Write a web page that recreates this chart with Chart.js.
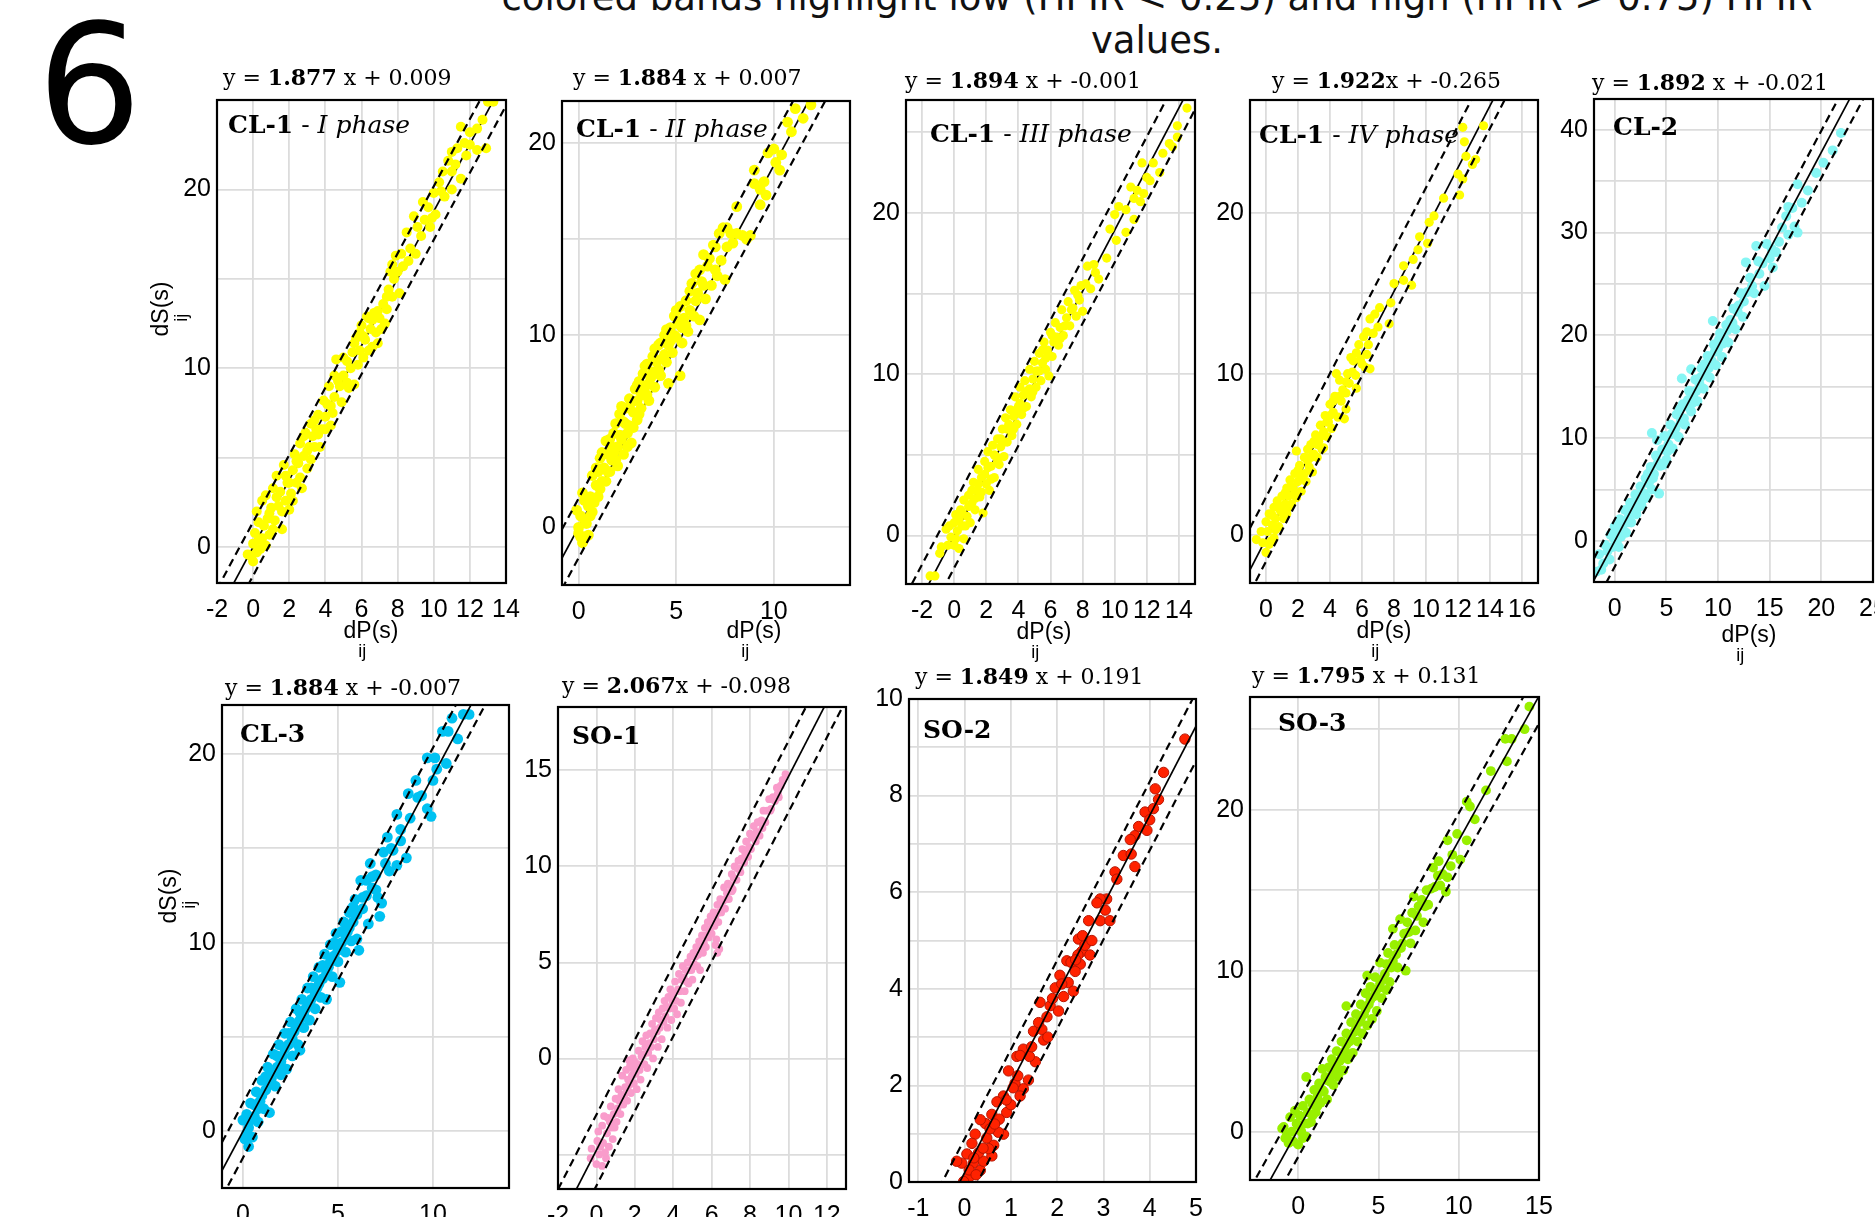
<!DOCTYPE html>
<html>
<head>
<meta charset="utf-8">
<script src="https://cdn.jsdelivr.net/npm/chart.js@4.4.1/dist/chart.umd.min.js"></script>
<style>
  body { margin: 0; width: 1875px; height: 1217px; overflow: hidden; background: #fff; position: relative; }
  .panel { position: absolute; }
  #fig { position: absolute; left: 37px; top: 4px; font: 165px/1 "DejaVu Sans"; color: #000; }
  #title { position: absolute; left: 457px; width: 1400px; top: -24px; text-align: center;
           font: 37px/43px "DejaVu Sans"; color: #111; white-space: nowrap; }
</style>
</head>
<body>
<div id="fig">6</div>
<div id="title">colored bands highlight low (HPIR &lt; 0.25) and high (HPIR &gt; 0.75) HPIR<br>values.</div>

<script>
// points, [dP_ij, dS_ij]
const cl1I = [[-0.3,-0.4],[-0.1,-0.5],[0.0,0.2],[0.2,-0.3],[0.1,0.8],[0.3,1.4],[0.5,0.5],[0.4,-0.1],[0.6,1.2],[0.2,2.0],
  [0.5,2.6],[0.8,1.6],[0.9,0.7],[1.0,2.2],[0.7,2.9],[1.2,1.5],[1.4,2.3],[1.1,3.3],[1.5,3.1],[1.3,4.0],[1.6,1.0],[1.8,2.6],
  [1.9,3.6],[1.7,4.6],[2.0,2.1],[2.1,3.0],[2.2,4.3],[2.4,3.6],[2.3,5.2],[2.5,4.7],[2.7,3.3],[2.6,5.8],[2.8,5.1],[3.0,4.4],
  [2.9,6.4],[3.1,5.6],[3.3,6.2],[3.2,4.9],[3.5,6.6],[3.4,7.1],[3.7,5.6],[3.8,6.6],[3.6,7.4],[4.0,7.3],[4.1,8.0],[4.3,6.8],
  [4.2,9.0],[4.5,8.4],[4.4,7.5],[4.7,9.3],[4.6,10.5],[4.9,8.1],[5.0,9.6],[5.2,10.4],[5.3,8.9],[5.5,10.9],[5.6,9.1],[5.8,10.2],
  [5.7,11.7],[6.0,12.4],[5.9,11.0],[6.2,11.6],[6.3,12.9],[6.1,10.6],[6.5,12.2],[6.6,11.2],[6.7,13.1],[6.8,12.0],[7.0,12.8],
  [6.9,11.4],[7.2,13.6],[7.3,12.5],[7.5,14.4],[7.4,13.3],[7.7,14.0],[7.8,15.0],[7.6,15.4],[8.0,15.4],[8.1,14.2],[7.9,16.3],
  [8.3,15.7],[8.5,17.6],[8.7,16.7],[9.0,16.4],[8.9,18.5],[9.3,17.4],[9.5,18.3],[9.4,19.3],[9.8,17.9],[9.7,19.0],[10.1,18.6],
  [10.0,19.8],[10.3,20.4],[10.6,19.6],[10.5,21.0],[11.0,20.0],[11.2,21.4],[11.0,22.1],[10.8,21.6],[11.5,20.6],[11.3,22.3],
  [11.7,22.6],[12.0,22.5],[12.4,22.2],[12.0,23.2],[11.5,23.5],[12.4,23.4],[12.7,23.9],[13.0,24.9],[13.3,24.9],[12.9,22.3],
  [0.0,-0.8],[0.3,0.4],[0.7,0.1],[0.9,1.9],[1.1,1.0],[1.3,2.8],[1.6,2.0],[1.8,4.0],[2.0,3.6],[2.2,2.6],[2.4,4.8],[2.6,3.9],
  [2.8,6.2],[3.0,5.4],[3.2,6.9],[3.4,5.6],[3.6,6.3],[3.9,8.2],[4.0,6.6],[4.3,7.9],[4.5,9.6],[4.8,9.0],[5.0,10.6],[5.2,9.2],
  [5.4,10.0],[5.6,11.4],[5.9,12.0],[6.1,11.8],[6.4,12.8],[6.4,11.0],[6.6,12.7],[6.9,13.2],[7.1,12.2],[7.4,14.0],[7.7,15.8],
  [8.2,16.4],[8.6,16.0],[9.1,17.9],[9.9,18.4],[10.4,19.9],[11.0,21.0],[11.8,21.9]];

const cl1II = [[-0.1,0.9],[0.0,0.0],[0.1,-0.5],[0.2,-0.8],[0.3,0.4],[0.0,-0.3],[0.2,1.8],[0.4,0.2],[0.5,1.1],[0.3,-0.5],
  [0.6,0.6],[0.7,2.7],[0.6,1.6],[0.8,1.3],[0.9,2.2],[1.0,2.9],[1.0,1.6],[1.1,3.6],[1.2,2.4],[1.3,3.1],[1.4,4.5],[1.4,2.4],
  [1.5,3.8],[1.6,4.6],[1.6,2.9],[1.7,3.5],[1.8,4.9],[1.8,3.9],[1.9,5.4],[2.0,4.2],[2.0,3.2],[2.1,5.9],[2.2,4.6],[2.3,5.5],
  [2.3,3.8],[2.4,6.2],[2.5,4.9],[2.6,6.7],[2.6,5.3],[2.7,4.4],[2.8,6.0],[2.9,7.2],[3.0,5.6],[3.0,6.6],[3.1,7.6],[3.2,6.2],
  [3.3,8.0],[3.3,6.9],[3.4,7.3],[3.5,8.5],[3.6,6.6],[3.7,7.8],[3.8,8.9],[3.9,7.3],[4.0,8.6],[4.1,9.5],[4.2,7.9],[4.3,8.8],
  [4.4,10.0],[4.5,8.6],[4.6,9.5],[4.6,7.5],[4.7,10.4],[4.8,9.1],[4.9,11.0],[5.0,9.9],[5.1,10.6],[5.2,7.9],[5.2,11.5],
  [5.3,9.6],[5.4,10.9],[5.5,11.8],[5.6,10.2],[5.7,11.3],[5.8,12.7],[5.9,11.0],[6.0,13.2],[6.1,12.2],[6.2,10.8],[6.3,12.8],
  [6.4,14.2],[6.5,11.9],[6.6,13.6],[6.8,12.6],[6.9,14.7],[7.0,13.4],[7.2,15.3],[7.3,13.9],[7.4,15.6],[7.6,14.6],[7.8,15.3],
  [7.5,12.9],[8.1,16.7],[8.1,15.3],[8.4,15.2],[8.8,15.2],[8.6,15.0],[9.0,18.6],[9.3,17.6],[9.6,17.3],[9.3,16.8],[9.0,17.9],
  [9.5,18.0],[9.7,19.5],[10.0,19.7],[10.1,19.0],[10.4,19.4],[10.3,18.6],[10.7,21.1],[10.9,20.6],[11.1,21.8],[11.5,21.3],
  [11.9,22.0],
  [0.1,0.6],[0.3,1.4],[0.5,-0.4],[0.7,0.8],[0.9,3.1],[1.1,2.0],[1.2,3.9],[1.5,2.9],[1.7,4.2],[1.9,3.5],[2.1,4.8],[2.2,6.3],
  [2.4,5.4],[2.5,4.2],[2.7,6.5],[2.8,5.2],[3.0,7.4],[3.1,5.9],[3.2,7.0],[3.4,8.4],[3.5,6.9],[3.6,7.5],[3.8,8.1],[3.9,9.3],
  [4.1,8.2],[4.2,9.6],[4.4,9.0],[4.5,10.3],[4.7,9.7],[4.9,10.0],[5.0,11.3],[5.3,10.4],[5.5,10.5],[5.7,12.3],[6.0,11.8],
  [6.2,13.4],[6.4,12.6],[6.7,14.0],[7.0,14.6],[7.1,13.1],[7.6,15.6],[7.9,14.8]];

const cl1III = [[-1.5,-2.5],[-1.2,-2.5],[-0.9,-1.1],[-0.8,-0.7],[-0.5,0.4],[-0.4,-0.6],[-0.2,-0.1],[0.0,0.8],[0.0,-0.6],
  [0.2,0.3],[0.1,1.3],[0.3,-0.8],[0.4,1.6],[0.5,0.6],[0.6,2.2],[0.6,-0.2],[0.8,1.2],[0.9,2.5],[1.0,0.8],[1.1,2.0],[1.2,3.3],
  [1.3,1.6],[1.4,2.8],[1.5,4.1],[1.6,2.4],[1.7,3.6],[1.8,1.4],[1.9,4.6],[2.0,3.2],[2.1,5.2],[2.2,2.8],[2.3,4.3],[2.4,5.6],
  [2.5,3.6],[2.6,4.9],[2.7,6.0],[2.8,4.4],[2.9,5.5],[3.0,6.6],[3.1,4.9],[3.2,7.3],[3.3,5.8],[3.4,6.9],[3.5,7.8],[3.6,6.2],
  [3.7,7.4],[3.8,8.6],[3.9,6.9],[4.0,8.0],[4.1,9.2],[4.2,7.5],[4.3,8.7],[4.4,9.6],[4.5,8.0],[4.6,9.0],[4.7,10.3],[4.8,8.6],
  [4.9,9.7],[5.0,10.8],[5.1,9.2],[5.2,10.2],[5.3,11.3],[5.4,9.6],[5.5,10.7],[5.6,12.0],[5.7,10.3],[5.8,11.5],[5.9,9.9],
  [6.0,12.6],[6.1,11.1],[6.2,12.0],[6.3,13.2],[6.5,11.8],[6.6,12.9],[6.7,14.0],[6.8,12.4],[7.0,13.5],[7.1,14.5],[7.2,13.0],
  [7.4,14.1],[7.5,15.2],[7.6,13.6],[7.8,14.6],[7.9,15.5],[8.0,13.9],[8.3,16.7],[8.5,15.3],[8.7,16.8],[9.0,15.9],[9.5,17.2],
  [9.7,19.0],[10.0,19.9],[10.1,18.3],[10.25,20.4],[10.7,18.8],[10.7,20.2],[11.0,21.6],[11.2,20.9],[11.2,19.6],[11.4,21.4],
  [11.6,20.7],[11.7,23.1],[11.8,21.2],[12.0,22.2],[12.2,22.0],[12.4,23.1],[12.8,22.5],[13.0,23.7],[13.4,24.3],[13.6,24.1],
  [13.9,25.4],[13.9,24.7],[14.5,26.5],
  [-0.3,0.6],[0.1,-0.2],[0.3,1.0],[0.5,1.4],[0.7,0.6],[0.9,1.8],[1.1,2.8],[1.3,2.3],[1.5,3.2],[1.7,2.7],[1.9,3.8],[2.1,4.2],
  [2.3,3.5],[2.5,5.0],[2.7,4.6],[2.9,6.0],[3.1,5.8],[3.3,6.6],[3.5,6.7],[3.7,6.6],[3.9,7.8],[4.1,8.2],[4.3,7.9],[4.5,8.9],
  [4.7,9.1],[4.9,8.9],[5.1,10.2],[5.3,10.2],[5.5,11.5],[5.7,11.0],[5.9,11.2],[6.1,12.4],[6.4,12.3],[6.6,12.2],[6.9,13.0],
  [7.3,14.0],[7.7,14.9],[8.2,15.6],[8.8,16.3]];

const cl1IV = [[-0.6,-0.3],[-0.3,0.2],[-0.2,-0.5],[0.0,0.8],[0.0,-1.1],[0.1,0.2],[0.2,1.3],[0.3,-0.4],[0.4,0.6],[0.5,1.7],
  [0.5,-0.2],[0.6,1.0],[0.7,2.1],[0.8,0.5],[0.9,1.5],[1.0,2.4],[1.1,1.0],[1.2,1.9],[1.3,2.9],[1.3,1.3],[1.4,2.4],[1.5,3.4],
  [1.6,1.9],[1.7,2.9],[1.8,3.8],[1.9,2.3],[1.9,5.2],[2.0,3.3],[2.1,4.3],[2.2,2.7],[2.3,3.7],[2.4,4.8],[2.5,3.3],[2.6,5.3],
  [2.7,4.2],[2.8,5.6],[2.9,3.9],[3.0,5.0],[3.1,6.2],[3.2,4.8],[3.3,5.8],[3.4,6.8],[3.5,5.3],[3.6,5.4],[3.6,6.4],[3.7,7.4],
  [3.8,6.1],[3.9,7.0],[4.0,8.1],[4.1,6.6],[4.2,7.6],[4.3,8.6],[4.4,10.0],[4.5,7.3],[4.6,9.6],[4.7,8.3],[4.8,9.0],[4.9,7.2],
  [5.0,8.8],[5.0,7.8],[5.1,10.0],[5.2,9.4],[5.3,11.0],[5.45,10.8],[5.6,9.9],[5.65,11.3],[5.65,9.1],[5.8,11.8],[6.0,10.6],
  [6.1,12.3],[6.2,10.4],[6.3,11.2],[6.4,11.8],[6.5,13.4],[6.5,10.3],[6.7,12.5],[6.8,13.7],[7.0,12.9],[7.1,14.1],[7.7,13.1],
  [7.8,14.4],[8.0,15.6],[8.6,16.7],[8.6,15.8],[9.1,15.5],[9.2,17.1],[9.5,17.7],[9.6,18.5],[10.1,18.1],[10.2,19.4],[10.5,19.8],
  [11.1,20.9],[12.1,21.1],[12.0,22.4],[12.3,22.1],[12.5,23.5],[12.9,23.0],[13.1,23.3],[12.4,24.4],[12.3,25.3],[13.6,25.4],
  [0.2,-0.6],[0.4,1.2],[0.6,0.3],[0.8,1.8],[1.0,1.4],[1.2,2.6],[1.4,1.7],[1.6,3.0],[1.8,2.6],[2.0,4.0],[2.2,3.6],[2.4,3.8],
  [2.6,4.6],[2.8,4.8],[3.0,5.8],[3.2,5.6],[3.4,6.1],[3.8,7.0],[4.0,7.4],[4.2,8.3],[4.6,8.6],[5.0,9.5],[5.4,10.1],[5.9,10.9],
  [6.3,12.6]];

const cl2 = [[-1.8,-3.0],[-1.5,-1.3],[-1.1,-2.2],[-0.9,-0.4],[-0.5,-1.8],[-0.4,0.6],[-0.2,-0.6],[0.0,1.4],[0.2,-0.2],
  [0.3,0.9],[0.5,2.1],[0.6,0.4],[0.8,1.6],[1.0,3.0],[1.1,0.8],[1.3,2.2],[1.5,3.7],[1.6,1.8],[1.8,3.0],[2.0,4.5],[2.1,2.6],
  [2.3,3.9],[2.5,5.3],[2.6,3.4],[2.8,4.6],[3.0,6.1],[3.1,4.2],[3.3,5.6],[3.5,7.2],[3.6,10.5],[3.6,5.0],[3.8,6.5],[4.0,8.3],
  [4.1,9.8],[4.3,4.6],[4.4,7.3],[4.6,8.9],[4.8,10.2],[5.0,7.9],[5.2,9.4],[5.4,11.3],[5.6,9.0],[5.8,10.5],[6.0,12.3],[6.2,10.1],
  [6.4,11.6],[6.5,15.8],[6.6,13.3],[6.8,11.3],[7.0,13.1],[7.2,14.6],[7.4,16.7],[7.4,12.6],[7.6,14.1],[7.8,15.7],[8.0,13.6],
  [8.2,15.3],[8.4,16.8],[8.6,14.8],[8.8,16.4],[9.0,18.0],[9.2,15.9],[9.4,17.5],[9.5,21.4],[9.6,19.1],[9.8,17.1],[10.0,18.7],
  [10.2,20.2],[10.4,17.9],[10.6,19.7],[10.8,21.0],[11.0,19.3],[11.2,21.5],[11.5,22.6],[11.7,20.6],[12.0,22.9],[12.2,24.1],
  [12.4,21.8],[12.7,27.1],[12.8,24.2],[13.1,25.6],[13.5,24.1],[13.7,28.7],[14.0,26.0],[14.5,24.8],[14.7,28.9],[15.0,27.5],
  [15.3,26.6],[15.6,28.1],[15.9,29.1],[16.6,31.6],[16.8,32.5],[16.8,29.8],[17.4,30.6],[17.7,34.7],[17.7,30.0],[18.1,32.9],
  [18.7,34.1],[19.5,35.8],[20.2,36.8],[21.1,38.0],[21.9,39.7],
  [-1.3,-2.8],[-0.7,-1.0],[-0.1,0.3],[0.4,-0.6],[0.7,1.2],[1.2,1.8],[1.7,2.8],[2.2,3.2],[2.7,4.0],[3.2,6.5],[3.7,6.1],
  [4.2,7.6],[4.7,7.4],[5.1,8.7],[5.5,10.4],[5.9,11.0],[6.3,12.8],[6.7,11.9],[7.1,13.7],[7.5,13.4],[7.9,14.6],[8.3,15.9],
  [8.7,17.2],[9.1,16.8],[9.7,18.4],[10.1,19.6],[10.5,19.2],[10.9,20.5],[11.4,21.2],[11.9,22.3],[12.5,23.3],[13.3,24.8],
  [13.9,27.2],[14.3,27.0],[15.2,28.4],[16.2,30.5],[17.2,32.4]];

const cl3 = [[0.0,0.6],[0.1,-0.4],[0.2,0.9],[0.3,-0.8],[0.3,0.2],[0.4,1.5],[0.5,-0.3],[0.6,0.8],[0.7,2.1],[0.8,0.5],[0.9,1.6],
  [1.0,2.7],[1.1,1.2],[1.2,2.2],[1.3,3.4],[1.4,1.0],[1.5,2.8],[1.6,4.1],[1.7,2.4],[1.8,3.4],[1.9,4.6],[2.0,3.0],[2.1,4.0],
  [2.2,5.2],[2.3,3.3],[2.4,4.6],[2.5,5.8],[2.6,4.0],[2.7,5.3],[2.8,6.5],[2.9,4.6],[3.0,5.9],[3.0,4.3],[3.1,7.0],[3.2,5.5],
  [3.3,6.5],[3.4,7.6],[3.5,5.9],[3.6,7.0],[3.7,8.2],[3.8,6.5],[3.9,7.6],[4.0,8.7],[4.1,7.1],[4.2,8.1],[4.3,9.4],[4.4,7.0],
  [4.5,8.7],[4.6,9.9],[4.7,8.2],[4.8,9.3],[4.9,10.5],[5.0,9.0],[5.1,7.9],[5.2,10.0],[5.3,11.1],[5.4,9.5],[5.5,10.6],[5.6,11.6],
  [5.7,10.1],[5.8,11.1],[5.9,12.3],[6.0,10.2],[6.1,9.6],[6.2,13.3],[6.3,11.8],[6.5,12.5],[6.6,11.0],[6.7,14.2],[6.8,12.9],
  [7.0,13.6],[7.1,12.4],[7.2,11.4],[7.3,12.1],[7.4,14.8],[7.6,15.6],[7.7,13.8],[7.9,14.9],[8.1,16.8],[8.1,14.1],[8.3,15.4],
  [8.6,14.5],[8.7,17.9],[9.1,18.6],[9.2,17.7],[9.7,17.1],[9.9,16.7],[9.7,19.8],[10.1,19.8],[10.2,19.2],[10.5,21.2],[10.7,19.5],
  [10.8,21.2],[11.0,21.9],[11.3,20.8],[11.6,22.1],[11.9,22.1],
  [0.2,-0.1],[0.4,0.6],[0.6,1.4],[0.8,1.2],[1.0,1.9],[1.2,2.9],[1.4,2.5],[1.6,3.1],[1.8,4.0],[2.0,3.7],[2.2,4.4],[2.4,5.2],
  [2.6,4.9],[2.8,5.6],[3.0,6.3],[3.2,6.2],[3.4,6.8],[3.6,7.6],[3.8,7.3],[4.0,7.8],[4.2,8.8],[4.4,8.4],[4.6,9.0],[4.8,10.0],
  [5.0,9.6],[5.2,10.6],[5.4,10.4],[5.6,10.8],[5.8,11.9],[6.0,11.5],[6.3,12.4],[6.5,13.3],[6.8,13.5],[7.0,12.8],[7.5,14.2],
  [7.8,15.0],[8.3,16.0],[8.8,16.6],[9.4,17.8],[10.0,18.6]];

const so1 = [[-0.3,-5.2],[-0.25,-4.7],[0.0,-5.5],[0.05,-4.3],[0.1,-3.8],[0.15,-5.0],[0.3,-5.6],[0.3,-3.5],[0.35,-4.4],
  [0.4,-3.0],[0.5,-5.2],[0.55,-3.9],[0.6,-3.1],[0.65,-4.6],[0.75,-2.5],[0.8,-3.6],[0.85,-4.2],[0.9,-2.9],[1.0,-2.1],
  [1.05,-3.3],[1.1,-2.6],[1.15,-1.6],[1.25,-2.9],[1.3,-1.9],[1.35,-0.9],[1.4,-2.4],[1.5,-1.5],[1.55,-0.6],[1.6,-2.2],
  [1.65,-1.1],[1.75,-0.4],[1.8,-1.8],[1.85,-0.9],[1.9,0.0],[1.95,-1.3],[2.0,-0.2],[2.05,-0.8],[2.1,-1.6],[1.7,-0.1],
  [2.2,0.4],[2.25,-0.6],[2.3,-1.1],[2.35,0.1],[2.4,0.9],[2.5,-0.3],[2.55,0.6],[2.6,1.2],[2.65,-0.5],[2.7,0.3],[2.8,1.3],
  [2.85,0.6],[2.9,1.8],[2.95,0.0],[3.0,1.0],[3.1,2.1],[3.15,1.4],[3.2,0.6],[3.25,2.4],[3.3,1.6],[3.4,1.0],[3.45,2.6],
  [3.5,1.9],[3.55,3.0],[3.6,2.2],[3.7,1.6],[3.75,3.2],[3.8,2.6],[3.85,3.6],[3.9,2.0],[4.0,3.4],[4.05,2.6],[4.1,4.0],
  [4.15,3.0],[4.2,2.3],[4.3,4.4],[4.35,3.5],[4.4,2.9],[4.45,4.1],[4.5,4.8],[4.6,3.5],[4.65,4.6],[4.7,4.0],[4.75,5.0],
  [4.8,3.9],[4.9,5.3],[4.95,4.6],[5.0,4.1],[5.05,5.5],[5.1,4.9],[5.2,5.8],[5.25,4.8],[5.3,5.4],[5.35,6.1],[5.4,4.6],
  [5.5,6.4],[5.55,5.5],[5.6,6.0],[5.65,6.8],[5.7,5.8],[5.8,7.1],[5.85,6.3],[5.9,6.7],[5.95,7.4],[6.0,6.5],[6.2,5.9],
  [6.3,5.5],[6.4,5.7],[6.25,6.2],[6.1,7.6],[6.15,6.9],[6.2,7.4],[6.3,8.0],[6.35,7.1],[6.45,8.3],[6.5,7.6],[6.6,8.2],
  [6.65,8.9],[6.7,7.8],[6.8,8.6],[6.85,9.1],[6.9,8.3],[7.0,9.0],[7.05,9.6],[7.1,8.8],[7.15,9.4],[7.2,10.0],[7.3,9.3],
  [7.35,9.9],[7.4,10.3],[7.5,9.7],[7.55,10.4],[7.6,10.9],[7.7,10.2],[7.75,10.7],[7.8,11.3],[7.9,10.5],[7.95,11.0],
  [8.0,11.7],[8.05,10.9],[8.1,11.5],[8.2,12.1],[8.3,11.3],[8.35,11.8],[8.4,12.3],[8.5,11.6],[8.6,12.4],[8.7,12.9],
  [8.8,12.3],[8.9,12.9],[9.0,13.5],[9.1,13.0],[9.2,13.6],[9.3,13.4],[9.4,14.1],[9.5,13.6],[9.6,14.2],[9.7,14.5],[9.85,14.8],
  [0.2,-4.6],[0.45,-4.9],[0.7,-3.3],[0.95,-3.6],[1.2,-2.2],[1.45,-1.9],[1.7,-1.4],[1.95,-0.6],[2.15,-0.3],[2.45,0.2],
  [2.75,0.8],[3.05,1.5],[3.35,2.0],[3.65,2.7],[3.95,3.0],[4.25,3.6],[4.55,4.2],[4.85,4.6],[5.15,5.3],[5.45,5.7],[5.75,6.4],
  [6.05,7.0],[6.4,7.6],[6.75,8.3],[7.05,8.7],[7.45,9.9],[7.85,10.6],[8.25,11.5],[8.65,12.0],[9.05,12.9],[9.45,13.8]];

const so2 = [[4.76,9.17],[4.3,8.48],[4.12,8.14],[4.19,7.92],[3.9,7.66],[4.08,7.73],[4.0,7.5],[3.94,7.28],[3.76,7.36],
  [3.68,7.17],[3.58,7.09],[3.43,6.76],[3.6,6.79],[3.68,6.53],[3.25,6.42],[3.29,6.27],[3.07,5.86],[3.04,5.63],[2.93,5.86],
  [2.86,5.78],[2.68,5.41],[2.93,5.41],[3.14,5.41],[2.46,5.03],[2.64,4.96],[2.53,4.77],[2.71,4.70],[2.6,4.9],[2.5,4.51],
  [2.39,4.36],[2.21,4.58],[2.06,4.28],[2.24,4.13],[2.35,3.95],[1.96,4.02],[2.14,3.84],[1.85,3.65],[2.03,3.54],[1.63,3.72],
  [1.78,3.42],[1.49,3.12],[1.67,3.16],[1.71,2.94],[1.27,2.75],[1.13,2.6],[1.2,2.62],[0.95,2.30],[1.53,2.49],[1.38,2.11],
  [1.27,1.93],[1.09,2.04],[1.2,1.78],[0.84,1.78],[0.7,1.66],[0.91,1.44],[0.59,1.4],[0.45,1.21],[0.34,1.29],[0.23,0.99],
  [0.84,0.99],[0.48,0.91],[0.63,0.76],[0.59,0.54],[0.16,0.8],[0.05,0.58],[0.19,0.39],[-0.06,0.39],[0.34,0.24],[0.09,0.09],
  [-0.02,0.01],[-0.17,0.43],[0.41,0.43],[0.73,1.03],[0.52,0.69],[0.3,0.6],[0.1,0.25],[0.25,0.15],[0.55,1.1],[0.75,1.3],
  [1.0,1.6],[1.05,1.95],[1.4,2.6],[1.8,3.0],[2.3,4.55],[2.55,5.1],[2.45,4.7],
  [0.2,0.5],[0.4,0.7],[0.65,1.2],[0.9,1.7],[1.15,2.2],[1.45,2.8],[1.6,3.3],[1.9,3.8],[2.1,4.1],[2.4,4.6],[2.75,5.0]];

const so3 = [[-0.9,0.3],[-1.0,0.2],[-0.7,-0.2],[-0.6,-0.7],[-0.5,0.9],[-0.4,0.0],[-0.3,-0.6],[-0.2,1.3],[0.0,0.4],[0.0,-0.8],
  [0.1,1.0],[0.2,0.0],[0.3,1.6],[0.4,0.5],[0.5,-0.3],[0.5,3.4],[0.6,1.2],[0.7,2.0],[0.8,0.6],[0.9,1.7],[1.0,2.6],[1.1,1.2],
  [1.2,2.2],[1.3,3.0],[1.4,1.8],[1.5,3.9],[1.6,2.5],[1.7,3.4],[1.8,2.0],[1.9,4.0],[2.0,3.1],[2.1,4.5],[2.2,2.9],[2.3,3.8],
  [2.4,5.0],[2.5,3.4],[2.6,4.4],[2.7,5.6],[2.8,3.8],[2.9,5.0],[3.0,7.8],[3.0,6.1],[3.1,4.5],[3.2,5.6],[3.3,6.8],[3.4,4.9],
  [3.5,6.2],[3.6,7.3],[3.7,5.6],[3.8,6.8],[3.9,7.9],[4.0,6.1],[4.1,7.3],[4.2,8.6],[4.3,9.7],[4.3,6.6],[4.4,7.9],[4.5,9.0],
  [4.6,7.0],[4.7,8.4],[4.8,9.6],[4.9,7.5],[5.0,8.9],[5.1,10.5],[5.2,8.3],[5.3,9.5],[5.5,8.8],[5.5,10.4],[5.6,11.1],[5.7,9.3],
  [5.9,12.6],[5.9,10.6],[6.0,11.6],[6.2,10.2],[6.35,13.2],[6.4,11.4],[6.6,12.3],[6.7,10.0],[6.8,13.0],[7.0,11.7],[7.1,13.6],
  [7.2,14.6],[7.3,12.5],[7.5,14.0],[7.7,14.4],[7.8,13.0],[8.0,15.0],[8.1,14.1],[8.4,16.4],[8.5,15.2],[8.75,16.8],[8.85,15.3],
  [9.0,16.0],[9.2,14.9],[9.3,18.1],[9.3,15.8],[9.6,17.2],[9.9,18.5],[10.1,16.9],[10.5,18.1],[10.5,20.5],[10.7,20.2],
  [11.0,19.4],[11.7,21.2],[12.0,22.4],[12.9,24.4],[13.0,23.0],[13.3,24.4],[14.1,25.0],[14.4,26.4],
  [-0.8,-0.4],[-0.1,0.5],[0.3,-0.4],[0.6,0.5],[0.9,1.0],[1.2,1.6],[1.5,2.6],[1.8,3.2],[2.1,3.5],[2.4,4.2],[2.7,4.6],
  [3.0,5.4],[3.3,6.0],[3.6,6.4],[3.9,7.0],[4.2,7.6],[4.5,8.2],[4.8,8.6],[5.1,9.2],[5.4,9.8],[5.8,10.2],[6.1,11.0],
  [6.5,11.7],[6.9,12.4],[7.4,13.4],[7.9,14.0],[8.3,15.1],[8.7,15.9],[9.5,16.5]];

const panelData = [cl1I, cl1II, cl1III, cl1IV, cl2, cl3, so1, so2, so3];
const panelName = [['CL-1', ' - ', 'I phase'], ['CL-1', ' - ', 'II phase'], ['CL-1', ' - ', 'III phase'],
  ['CL-1', ' - ', 'IV phase'], ['CL-2'], ['CL-3'], ['SO-1'], ['SO-2'], ['SO-3']];

// equation text above each panel
const eqSlope = ['1.877', '1.884', '1.894', '1.922', '1.892', '1.884', '2.067', '1.849', '1.795'];
const eqX = [' x', ' x', ' x', 'x', ' x', ' x', 'x', ' x', ' x'];
const eqIcpt = ['0.009', '0.007', '-0.001', '-0.265', '-0.021', '-0.007', '-0.098', '0.191', '0.131'];

// fitted line as drawn, and the dashed band offsets
const fitSlope = [1.877, 1.884, 1.894, 1.922, 1.892, 1.884, 1.945, 1.849, 1.795];
const fitIcpt = [0.009, 0.007, -0.001, -0.265, -0.021, -0.007, -4.78, 0.191, 0.131];
const bandUp = [1.4, 1.5, 2.0, 2.6, 2.1, 1.5, 1.85, 0.7, 1.7];
const bandDn = [1.6, 1.6, 2.0, 1.4, 2.5, 1.4, 1.85, 0.72, 1.7];

// axes
const xRange = [[-2, 14], [-0.85, 13.9], [-3, 15], [-1, 17], [-2, 25], [-1.1, 14], [-2, 13], [-1.2, 5], [-3, 15]];
const yRange = [[-2, 25], [-3, 22.2], [-3, 27], [-3, 27], [-4, 43], [-3, 22.6], [-6.8, 18.3], [0, 10], [-3, 27]];
const xStep = [2, 5, 2, 2, 5, 5, 2, 1, 5];
const yStep = [5, 5, 5, 5, 5, 5, 5, 1, 5];
const yLabStep = [10, 10, 10, 10, 10, 10, 5, 2, 10];
const yLabMin = [-99, -99, -99, -99, -99, -99, 0, -99, -99];

// layout (page px): plot boxes and text anchors
const PAD = {l: 75, t: 50, r: 26, b: 95};
const boxes = [[217, 100, 506, 583], [562, 101, 850, 585], [906, 100, 1195, 584], [1250, 100, 1538, 583],
  [1594, 99, 1873, 582], [222, 705, 509, 1188], [558, 707, 846, 1189], [909, 699, 1196, 1182], [1250, 697, 1539, 1180]];
const eqPos = [[223, 85], [573, 85], [905, 88], [1272, 88], [1592, 90], [225, 695], [562, 693], [915, 684], [1252, 683]];
const lblPos = [[228, 133], [576, 137], [930, 142], [1259, 143], [1613, 135], [240, 742], [572, 744], [923, 738], [1278, 731]];
const xLab = [[371, 638], [754, 638], [1044, 639], [1384, 638], [1749, 642], null, null, null, null];
const yLab = [[168, 309], null, null, null, null, [176, 896], null, null, null];

const colors = ['#ffff00', '#ffff00', '#ffff00', '#ffff00', '#86f6f4', '#00c2f2', '#f99ccb', '#ff2200', '#98f000'];
const edges = [null, null, null, null, null, null, null, '#b81500', null];
const radii = [5, 5.4, 4.6, 4.6, 5, 5.4, 3.9, 5.2, 4.9];
const lineOnTop = [false, false, false, false, true, true, true, true, true];

function runs(ctx, parts, x, y) {
  parts.forEach(([txt, f]) => {
    ctx.font = f + ' "DejaVu Serif"';
    ctx.fillText(txt, x, y);
    x += ctx.measureText(txt).width;
  });
}

// "dP" + "(s)" with "ij" set below, like the MATLAB labels
function subLabel(ctx, head, cx, base) {
  ctx.font = '23px "Liberation Sans"';
  const w1 = ctx.measureText(head).width, w2 = ctx.measureText('(s)').width;
  const wd = ctx.measureText('d').width;
  const x0 = cx - (w1 + w2) / 2;
  ctx.fillText(head, x0, base);
  ctx.fillText('(s)', x0 + w1, base);
  ctx.font = '18px "Liberation Sans"';
  ctx.fillText('ij', x0 + wd + 2, base + 19);
}

function stepTicks(min, max, step) {
  const t = [];
  for (let k = Math.ceil(min / step - 1e-9); k * step <= max + 1e-9; k++) t.push({value: Math.round(k * step * 1000) / 1000});
  return t;
}

const deco = {
  id: 'deco',
  afterDraw(chart) {
    const i = chart.options.plugins.deco.i;
    const {ctx, chartArea: a} = chart;
    const ox = boxes[i][0] - PAD.l, oy = boxes[i][1] - PAD.t;
    const px = x => x - ox, py = y => y - oy;
    ctx.save();
    ctx.strokeStyle = '#000';
    ctx.lineWidth = 2.2;
    ctx.strokeRect(a.left, a.top, a.right - a.left, a.bottom - a.top);
    ctx.fillStyle = '#000';
    ctx.textAlign = 'left';
    ctx.textBaseline = 'alphabetic';
    runs(ctx, [['y = ', '22px'], [eqSlope[i], 'bold 22px'], [eqX[i] + ' + ' + eqIcpt[i], '22px']],
      px(eqPos[i][0]), py(eqPos[i][1]));
    const nm = panelName[i];
    const parts = [[nm[0], 'bold 25px']];
    if (nm.length > 1) parts.push([nm[1], '25px'], [nm[2], 'italic 25px']);
    runs(ctx, parts, px(lblPos[i][0]), py(lblPos[i][1]));
    if (xLab[i]) subLabel(ctx, 'dP', px(xLab[i][0]), py(xLab[i][1]));
    if (yLab[i]) {
      ctx.translate(px(yLab[i][0]), py(yLab[i][1]));
      ctx.rotate(-Math.PI / 2);
      subLabel(ctx, 'dS', 0, 0);
    }
    ctx.restore();
  }
};

const tickFont = {family: 'Liberation Sans', size: 25};

panelData.forEach((pts, i) => {
  const [L, T, R, B] = boxes[i];
  const div = document.createElement('div');
  div.className = 'panel';
  div.style.left = (L - PAD.l) + 'px';
  div.style.top = (T - PAD.t) + 'px';
  div.style.width = (PAD.l + (R - L) + PAD.r) + 'px';
  div.style.height = (PAD.t + (B - T) + PAD.b) + 'px';
  const cv = document.createElement('canvas');
  div.appendChild(cv);
  document.body.appendChild(div);

  const [x0, x1] = xRange[i];
  const line = off => [x0, x1].map(x => ({x: x, y: fitSlope[i] * x + fitIcpt[i] + off}));
  const dashed = {borderColor: '#000', borderWidth: 2.2, borderDash: [8, 5], showLine: true, pointRadius: 0, order: 0};

  new Chart(cv, {
    type: 'scatter',
    data: {
      datasets: [
        Object.assign({data: line(bandUp[i])}, dashed),
        Object.assign({data: line(-bandDn[i])}, dashed),
        {data: line(0), borderColor: '#000', borderWidth: 1.7, showLine: true, pointRadius: 0,
         order: lineOnTop[i] ? 1 : 3},
        {data: pts.map(p => ({x: p[0], y: p[1]})), backgroundColor: colors[i],
         borderColor: edges[i] || colors[i], borderWidth: edges[i] ? 1 : 0, pointRadius: radii[i], order: 2}
      ]
    },
    options: {
      responsive: true,
      maintainAspectRatio: false,
      animation: false,
      events: [],
      layout: {padding: {left: 0, top: PAD.t, right: PAD.r, bottom: 0}},
      plugins: {legend: {display: false}, tooltip: {enabled: false}, deco: {i: i}},
      scales: {
        x: {
          type: 'linear', min: x0, max: x1,
          afterFit: s => { s.height = PAD.b; },
          afterBuildTicks: s => { s.ticks = stepTicks(x0, x1, xStep[i]); },
          border: {display: false},
          grid: {color: '#dcdcdc', lineWidth: 1.8, drawTicks: false},
          ticks: {autoSkip: false, maxRotation: 0, padding: 12, color: '#000', font: tickFont}
        },
        y: {
          type: 'linear', min: yRange[i][0], max: yRange[i][1],
          afterFit: s => { s.width = PAD.l; },
          afterBuildTicks: s => { s.ticks = stepTicks(yRange[i][0], yRange[i][1], yStep[i]); },
          border: {display: false},
          grid: {color: '#dcdcdc', lineWidth: 1.8, drawTicks: false},
          ticks: {padding: 6, color: '#000', font: tickFont,
                  callback: v => (Math.abs(v % yLabStep[i]) < 1e-9 && v >= yLabMin[i]) ? v : ''}
        }
      }
    },
    plugins: [deco]
  });
});
</script>
</body>
</html>
